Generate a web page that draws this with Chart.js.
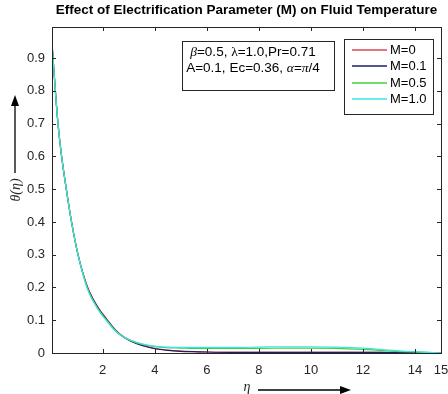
<!DOCTYPE html>
<html>
<head>
<meta charset="utf-8">
<script src="https://cdn.jsdelivr.net/npm/chart.js@4.4.1/dist/chart.umd.min.js"></script>
<style>
    html, body { margin: 0; padding: 0; background: #fff; }
    #wrap { width: 448px; height: 394px; }
</style>
</head>
<body>
<div id="wrap"><canvas id="tempChart" width="448" height="394"></canvas></div>
<script>
// ---- data ----
const eta = [0.05, 0.09, 0.18, 0.28, 0.42, 0.6, 0.8, 1.05, 1.4, 1.8, 2.15, 2.5, 2.75, 3.1, 3.5, 4,
             4.5, 5, 5.5, 6, 7, 8, 9, 10, 11, 12, 12.5, 13, 13.5, 14, 14.5, 15];

const thetaM0  = [0.945, 0.9, 0.8, 0.7, 0.6, 0.5, 0.4, 0.3, 0.205, 0.142, 0.104, 0.070, 0.053, 0.037, 0.025, 0.014,
                  0.009, 0.006, 0.004, 0.003, 0.002, 0.002, 0.002, 0.002, 0.002, 0.002, 0.002, 0.0015, 0.0015, 0.001, 0.001, 0];
const thetaM01 = [0.945, 0.9, 0.8, 0.7, 0.6, 0.5, 0.4, 0.3, 0.203, 0.140, 0.102, 0.068, 0.051, 0.035, 0.023, 0.013,
                  0.008, 0.005, 0.004, 0.003, 0.002, 0.002, 0.002, 0.002, 0.002, 0.002, 0.002, 0.0015, 0.0015, 0.001, 0.001, 0];
const thetaM05 = [0.945, 0.9, 0.8, 0.7, 0.6, 0.5, 0.4, 0.3, 0.2, 0.137, 0.100, 0.067, 0.051, 0.037, 0.027, 0.019,
                  0.016, 0.015, 0.014, 0.014, 0.014, 0.014, 0.015, 0.015, 0.014, 0.011, 0.009, 0.006, 0.004, 0.003, 0.002, 0];
const thetaM1  = [0.945, 0.9, 0.8, 0.7, 0.6, 0.5, 0.4, 0.3, 0.198, 0.135, 0.098, 0.066, 0.051, 0.038, 0.028, 0.021,
                  0.018, 0.017, 0.017, 0.017, 0.017, 0.018, 0.019, 0.019, 0.018, 0.015, 0.012, 0.009, 0.006, 0.004, 0.002, 0];

const seriesLabels = ['M=0', 'M=0.1', 'M=0.5', 'M=1.0'];
const seriesColors = ['#e0454f', '#1c1c70', '#3fd23f', '#3fe3e3'];
const xTickValues = [2, 4, 6, 8, 10, 12, 14, 15];
const yTickValues = [0, 0.1, 0.2, 0.3, 0.4, 0.5, 0.6, 0.7, 0.8, 0.9];

const AXIS_COLOR = '#262626';
const SANS = '"Liberation Sans", Arial, sans-serif';
const SERIF = '"Liberation Serif", "Times New Roman", serif';

function toPoints(ys) {
    return eta.map((x, i) => ({ x: x, y: ys[i] }));
}

// draw text made of pieces with different fonts
function drawPieces(ctx, pieces, x, y, align) {
    let total = 0;
    pieces.forEach(p => { ctx.font = p[1]; total += ctx.measureText(p[0]).width; });
    let cx = align === 'center' ? x - total / 2 : x;
    ctx.textAlign = 'left';
    ctx.textBaseline = 'middle';
    pieces.forEach(p => {
        ctx.font = p[1];
        ctx.fillText(p[0], cx, y);
        cx += ctx.measureText(p[0]).width;
    });
}

function arrowHead(ctx, x, y, dir) {
    ctx.beginPath();
    if (dir === 'up') {
        ctx.moveTo(x, y);
        ctx.lineTo(x - 4, y + 11);
        ctx.lineTo(x + 4, y + 11);
    } else {
        ctx.moveTo(x, y);
        ctx.lineTo(x - 11, y - 4);
        ctx.lineTo(x - 11, y + 4);
    }
    ctx.closePath();
    ctx.fill();
}

// no extra room for overhanging tick labels
function noPad(s) {
    s.paddingLeft = 0;
    s.paddingRight = 0;
    s.paddingTop = 0;
    s.paddingBottom = 0;
}

// frame, inward ticks, title, labels, annotation and legend
const decorPlugin = {
    id: 'decor',
    afterDatasetsDraw(chart) {
        const ctx = chart.ctx;
        const area = chart.chartArea;
        const xs = chart.scales.x;
        const ys = chart.scales.y;
        ctx.save();

        // box
        ctx.strokeStyle = AXIS_COLOR;
        ctx.lineWidth = 1;
        ctx.strokeRect(Math.round(area.left) + 0.5, Math.round(area.top) + 0.5,
                       Math.round(area.right - area.left), Math.round(area.bottom - area.top));

        // inward ticks
        const tl = 4;
        ctx.beginPath();
        xTickValues.forEach(v => {
            const px = Math.round(xs.getPixelForValue(v)) + 0.5;
            ctx.moveTo(px, area.bottom); ctx.lineTo(px, area.bottom - tl);
            ctx.moveTo(px, area.top); ctx.lineTo(px, area.top + tl);
        });
        yTickValues.forEach(v => {
            const py = Math.round(ys.getPixelForValue(v)) + 0.5;
            ctx.moveTo(area.left, py); ctx.lineTo(area.left + tl, py);
            ctx.moveTo(area.right, py); ctx.lineTo(area.right - tl, py);
        });
        ctx.stroke();

        // title
        ctx.fillStyle = '#000';
        ctx.font = 'bold 13.5px ' + SANS;
        ctx.textAlign = 'center';
        ctx.textBaseline = 'middle';
        ctx.fillText('Effect of Electrification Parameter (M) on Fluid Temperature',
                     (area.left + area.right) / 2, 10);

        // y axis label with arrow
        ctx.fillStyle = AXIS_COLOR;
        ctx.save();
        ctx.translate(16, 190);
        ctx.rotate(-Math.PI / 2);
        drawPieces(ctx, [['\u03b8(\u03b7)', 'italic 14px ' + SERIF]], 0, 0, 'center');
        ctx.restore();
        ctx.strokeStyle = '#000';
        ctx.fillStyle = '#000';
        ctx.lineWidth = 1.3;
        ctx.beginPath();
        ctx.moveTo(15, 173); ctx.lineTo(15, 100);
        ctx.stroke();
        arrowHead(ctx, 15, 95, 'up');

        // x axis label with arrow
        ctx.fillStyle = AXIS_COLOR;
        drawPieces(ctx, [['\u03b7', 'italic 14px ' + SERIF]], 247, 387, 'center');
        ctx.fillStyle = '#000';
        ctx.beginPath();
        ctx.moveTo(258, 390); ctx.lineTo(345, 390);
        ctx.stroke();
        arrowHead(ctx, 351, 390, 'right');

        // parameter box
        ctx.lineWidth = 1;
        ctx.strokeStyle = AXIS_COLOR;
        ctx.fillStyle = '#fff';
        ctx.fillRect(182.5, 41.5, 152, 49);
        ctx.strokeRect(182.5, 41.5, 152, 49);
        ctx.fillStyle = '#000';
        const f = '13.5px ' + SANS;
        const g = 'italic 13.5px ' + SERIF;
        drawPieces(ctx, [['\u03b2', g], ['=0.5, ', f], ['\u03bb', '13.5px ' + SERIF], ['=1.0,Pr=0.71', f]], 253, 52, 'center');
        drawPieces(ctx, [['A=0.1, Ec=0.36, ', f], ['\u03b1', g], ['=', f], ['\u03c0', g], ['/4', f]], 253, 68, 'center');

        // legend
        ctx.fillStyle = '#fff';
        ctx.fillRect(344.5, 39.5, 89, 75);
        ctx.strokeStyle = AXIS_COLOR;
        ctx.strokeRect(344.5, 39.5, 89, 75);
        seriesLabels.forEach((lab, i) => {
            const y = 50 + i * 16.3;
            ctx.strokeStyle = seriesColors[i];
            ctx.lineWidth = 1.5;
            ctx.beginPath();
            ctx.moveTo(352, Math.round(y)); ctx.lineTo(387, Math.round(y));
            ctx.stroke();
            ctx.fillStyle = '#000';
            ctx.font = '13px ' + SANS;
            ctx.textAlign = 'left';
            ctx.textBaseline = 'middle';
            ctx.fillText(lab, 390, y + 0.5);
        });

        ctx.restore();
    }
};

const thetaSeries = [thetaM0, thetaM01, thetaM05, thetaM1];

new Chart(document.getElementById('tempChart'), {
    type: 'line',
    data: {
        datasets: thetaSeries.map((ys, i) => ({
            label: seriesLabels[i],
            data: toPoints(ys),
            borderColor: seriesColors[i],
            backgroundColor: seriesColors[i],
            borderWidth: 1.2,
            pointRadius: 0,
            cubicInterpolationMode: 'monotone',
            fill: false,
            order: 4 - i
        }))
    },
    options: {
        responsive: false,
        animation: false,
        layout: { padding: { left: 0, right: 7, top: 27, bottom: 0 } },
        plugins: {
            legend: { display: false },
            title: { display: false },
            tooltip: { enabled: false }
        },
        scales: {
            x: {
                type: 'linear',
                min: 0.05,
                max: 15,
                grid: { display: false, drawTicks: false },
                border: { display: false },
                afterBuildTicks: s => { s.ticks = xTickValues.map(v => ({ value: v })); },
                afterFit: s => { s.height = 41; noPad(s); },
                ticks: {
                    padding: 10,
                    color: AXIS_COLOR,
                    font: { family: SANS, size: 13 },
                    maxRotation: 0,
                    autoSkip: false
                }
            },
            y: {
                min: 0,
                max: 0.995,
                grid: { display: false, drawTicks: false },
                border: { display: false },
                afterBuildTicks: s => { s.ticks = yTickValues.map(v => ({ value: v })); },
                afterFit: s => { s.width = 52; noPad(s); },
                ticks: {
                    padding: 7,
                    color: AXIS_COLOR,
                    font: { family: SANS, size: 13 },
                    callback: v => (v === 0 ? '0' : String(Math.round(v * 10) / 10))
                }
            }
        }
    },
    plugins: [decorPlugin]
});
</script>
</body>
</html>
